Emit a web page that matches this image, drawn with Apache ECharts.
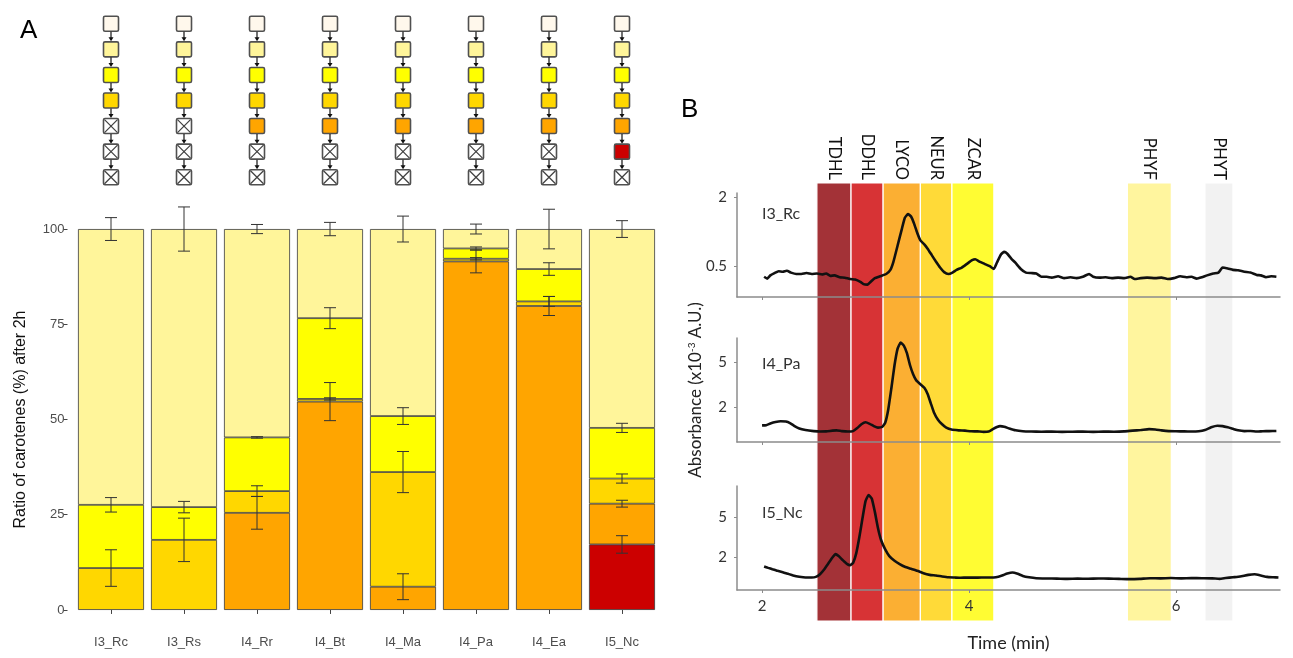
<!DOCTYPE html>
<html><head><meta charset="utf-8">
<script src="https://cdn.jsdelivr.net/npm/echarts@6/dist/echarts.min.js"></script>
<style>html,body{margin:0;padding:0;background:#fff}#c{width:1293px;height:658px}</style>
</head><body><div id="c"></div>
<script>
// ---------- Panel A data ----------
const categories = ['I3_Rc','I3_Rs','I4_Rr','I4_Bt','I4_Ma','I4_Pa','I4_Ea','I5_Nc'];
const redVals    = [null, null, null, null, null, null, null, 17.2];
const orangeVals = [null, null, 25.5, 54.7, 6.1, 91.5, 79.8, 10.7];
const goldVals   = [11.0, 18.4, 5.7, 0.7, 30.1, 0.7, 1.2, 6.6];
const yellowVals = [16.6, 8.6, 14.1, 21.2, 14.7, 2.7, 8.5, 13.3];
const lightVals  = [72.4, 73.0, 54.7, 23.4, 49.1, 5.1, 10.5, 52.2];
const redErr     = [null, null, null, null, null, null, null, 2.3];
const orangeErr  = [null, null, 4.3, 5.0, 3.4, 3.0, 2.5, 0.9];
const goldErr    = [4.8, 5.7, 1.4, 0.3, 5.4, 0.3, 1.3, 1.2];
const yellowErr  = [1.9, 1.5, 0.2, 2.75, 2.2, 0.4, 1.65, 1.2];
const lightErr   = [3.0, 5.8, 1.2, 1.75, 3.4, 1.3, 5.2, 2.2];
const yTicksA = [0, 25, 50, 75, 100];
// pathway: number of active enzyme steps per strain (rest crossed)
const activeSteps = [4, 4, 5, 5, 5, 5, 5, 6];
const stepColors = ['#FFF8EC', '#FFF59A', '#FFFF00', '#FFD700', '#FFA500', '#CC0000'];

// ---------- Panel B data ----------
const bandNames  = ['TDHL','DDHL','LYCO','NEUR','ZCAR','PHYF','PHYT'];
const bandStart  = [2.53, 2.86, 3.17, 3.53, 3.835, 5.53, 6.28];
const bandEnd    = [2.86, 3.17, 3.53, 3.835, 4.24, 5.955, 6.55];
const bandColors = ['#A33237', '#D73335', '#FBAF33', '#FFDA38', '#FFFC33', '#FFF59E', '#F2F2F2'];
const timeTicks = [2, 4, 6];
const traceI3Rc = [[2.02,0.27],[2.05,0.23],[2.08,0.3],[2.12,0.35],[2.16,0.39],[2.2,0.38],[2.24,0.4],[2.28,0.36],[2.33,0.33],[2.38,0.33],[2.43,0.35],[2.48,0.33],[2.53,0.34],[2.58,0.32],[2.62,0.34],[2.66,0.29],[2.7,0.3],[2.75,0.26],[2.8,0.25],[2.85,0.22],[2.9,0.21],[2.95,0.16],[2.98,0.11],[3.02,0.1],[3.05,0.16],[3.09,0.24],[3.14,0.28],[3.2,0.33],[3.24,0.42],[3.27,0.6],[3.31,0.95],[3.35,1.3],[3.38,1.55],[3.41,1.63],[3.44,1.58],[3.47,1.42],[3.5,1.22],[3.53,1.06],[3.57,0.97],[3.6,0.88],[3.64,0.74],[3.68,0.6],[3.72,0.47],[3.76,0.37],[3.8,0.33],[3.84,0.36],[3.88,0.42],[3.93,0.47],[3.98,0.55],[4.03,0.63],[4.06,0.65],[4.1,0.6],[4.15,0.55],[4.2,0.5],[4.24,0.44],[4.27,0.58],[4.31,0.76],[4.34,0.81],[4.37,0.77],[4.41,0.66],[4.45,0.57],[4.5,0.44],[4.55,0.36],[4.6,0.35],[4.65,0.34],[4.7,0.27],[4.75,0.27],[4.8,0.25],[4.86,0.28],[4.92,0.24],[4.98,0.26],[5.04,0.24],[5.1,0.27],[5.16,0.33],[5.2,0.27],[5.26,0.25],[5.32,0.26],[5.38,0.24],[5.44,0.25],[5.5,0.24],[5.56,0.27],[5.6,0.22],[5.66,0.24],[5.72,0.25],[5.8,0.24],[5.86,0.25],[5.92,0.22],[5.98,0.24],[6.04,0.28],[6.1,0.26],[6.15,0.27],[6.2,0.23],[6.25,0.26],[6.3,0.3],[6.36,0.34],[6.41,0.36],[6.45,0.47],[6.5,0.45],[6.55,0.42],[6.6,0.41],[6.66,0.38],[6.72,0.36],[6.78,0.31],[6.82,0.3],[6.87,0.26],[6.92,0.28],[6.97,0.27]];
const traceI4Pa = [[2.0,0.83],[2.04,0.84],[2.08,0.95],[2.13,1.05],[2.18,1.1],[2.23,1.08],[2.27,0.98],[2.31,0.8],[2.36,0.62],[2.42,0.52],[2.5,0.45],[2.56,0.42],[2.62,0.43],[2.68,0.48],[2.72,0.5],[2.77,0.45],[2.83,0.42],[2.88,0.45],[2.92,0.65],[2.96,0.9],[3.0,1.03],[3.04,0.93],[3.08,0.78],[3.12,0.68],[3.16,0.72],[3.19,1.0],[3.22,1.9],[3.25,3.3],[3.28,4.8],[3.31,5.9],[3.34,6.3],[3.37,6.1],[3.4,5.6],[3.43,4.8],[3.46,4.2],[3.49,3.8],[3.53,3.55],[3.57,3.3],[3.6,2.9],[3.63,2.3],[3.66,1.7],[3.7,1.2],[3.74,0.9],[3.78,0.68],[3.83,0.55],[3.9,0.5],[3.96,0.48],[4.02,0.44],[4.08,0.43],[4.14,0.4],[4.19,0.42],[4.23,0.58],[4.27,0.72],[4.3,0.78],[4.34,0.74],[4.39,0.62],[4.45,0.5],[4.52,0.44],[4.6,0.42],[4.7,0.41],[4.8,0.42],[4.9,0.4],[5.0,0.41],[5.1,0.42],[5.2,0.4],[5.3,0.42],[5.4,0.41],[5.5,0.43],[5.58,0.48],[5.66,0.52],[5.74,0.58],[5.8,0.56],[5.86,0.5],[5.93,0.45],[6.0,0.44],[6.08,0.43],[6.15,0.42],[6.22,0.44],[6.28,0.52],[6.34,0.7],[6.4,0.8],[6.45,0.78],[6.5,0.7],[6.55,0.6],[6.6,0.5],[6.66,0.45],[6.72,0.46],[6.78,0.42],[6.84,0.44],[6.9,0.45],[6.97,0.46]];
const traceI5Nc = [[2.02,1.33],[2.06,1.22],[2.1,1.12],[2.15,1.0],[2.2,0.9],[2.25,0.78],[2.3,0.66],[2.36,0.56],[2.42,0.5],[2.48,0.5],[2.52,0.55],[2.56,0.75],[2.6,1.1],[2.64,1.55],[2.68,2.0],[2.71,2.25],[2.74,2.1],[2.78,1.8],[2.82,1.52],[2.85,1.42],[2.88,1.6],[2.91,2.3],[2.94,3.5],[2.97,4.9],[3.0,6.2],[3.03,6.65],[3.06,6.4],[3.09,5.4],[3.12,4.2],[3.15,3.3],[3.19,2.6],[3.23,2.1],[3.28,1.75],[3.33,1.5],[3.38,1.3],[3.44,1.15],[3.5,1.0],[3.56,0.82],[3.62,0.7],[3.68,0.65],[3.74,0.58],[3.8,0.52],[3.86,0.5],[3.92,0.48],[3.98,0.5],[4.05,0.49],[4.12,0.5],[4.2,0.5],[4.26,0.52],[4.32,0.65],[4.37,0.8],[4.42,0.88],[4.47,0.78],[4.52,0.62],[4.58,0.52],[4.65,0.45],[4.75,0.43],[4.85,0.42],[4.95,0.4],[5.05,0.42],[5.15,0.41],[5.25,0.43],[5.35,0.42],[5.45,0.4],[5.55,0.38],[5.65,0.4],[5.75,0.45],[5.85,0.44],[5.95,0.46],[6.05,0.44],[6.15,0.46],[6.25,0.45],[6.35,0.44],[6.42,0.4],[6.48,0.46],[6.55,0.52],[6.62,0.58],[6.7,0.7],[6.76,0.74],[6.82,0.65],[6.88,0.55],[6.94,0.52],[6.99,0.5]];
const traceNames = ['I3_Rc', 'I4_Pa', 'I5_Nc'];
const yRangeB = [[-0.17, 2.09], [-0.27, 6.6], [-0.43, 7.33]];
const yTicksB = [[0.5, 2], [2, 5], [2, 5]];

// ---------- build ----------
const chart = echarts.init(document.getElementById('c'), null, {renderer: 'canvas'});
const segVals = [redVals, orangeVals, goldVals, yellowVals, lightVals];
const segErrs = [redErr, orangeErr, goldErr, yellowErr, lightErr];
const segColors = ['#CC0000', '#FFA500', '#FFD700', '#FFFF00', '#FFF59A'];
const segNames = ['red', 'orange', 'gold', 'yellow', 'light'];
const errData = [];
categories.forEach((c, i) => {
  let cum = 0;
  segVals.forEach((arr, k) => {
    if (arr[i] != null) { cum += arr[i]; if (segErrs[k][i] != null) errData.push([i, cum, segErrs[k][i]]); }
  });
});
const pathData = [];
categories.forEach((c, i) => {
  for (let s = 1; s <= 7; s++) pathData.push([i, s, s <= activeSteps[i] ? s - 1 : -1]);
});
const bandData = bandStart.map((s, i) => [s, bandEnd[i], 0]);

const fA = 'Liberation Sans, Arial, sans-serif';
const fB = 'Lato, Open Sans, sans-serif';
const gray = '#8c8c8c';
const BL = 737, BW = 543, XMIN = 1.758, XMAX = 7.005;
const gridsB = [{top: 193, height: 104}, {top: 338, height: 104}, {top: 486, height: 104}];

const option = {
  backgroundColor: '#fff',
  animation: false,
  title: [
    {text: 'A', left: 15, top: 13, textStyle: {fontSize: 26, fontWeight: 'normal', fontFamily: fA, color: '#000'}},
    {text: 'B', left: 676, top: 92, textStyle: {fontSize: 26, fontWeight: 'normal', fontFamily: fA, color: '#000'}},
    {text: traceNames[0], left: 757, top: 201, textStyle: {fontSize: 16, fontWeight: 'normal', fontFamily: fB, color: '#333'}},
    {text: traceNames[1], left: 757, top: 351, textStyle: {fontSize: 16, fontWeight: 'normal', fontFamily: fB, color: '#333'}},
    {text: traceNames[2], left: 757, top: 500, textStyle: {fontSize: 16, fontWeight: 'normal', fontFamily: fB, color: '#333'}}
  ],
  grid: [
    {left: 74.5, width: 584, top: 210, height: 419},
    {left: 74.5, width: 584, top: 11, height: 179},
    {left: BL, width: BW, top: 183, height: 438},
    {left: BL, width: BW, top: gridsB[0].top, height: gridsB[0].height},
    {left: BL, width: BW, top: gridsB[1].top, height: gridsB[1].height},
    {left: BL, width: BW, top: gridsB[2].top, height: gridsB[2].height}
  ],
  xAxis: [
    {type: 'category', gridIndex: 0, data: categories,
      axisLine: {show: false}, axisTick: {show: true, alignWithLabel: true, length: 4, lineStyle: {color: '#444'}},
      axisLabel: {color: '#4d4d4d', fontSize: 13, fontFamily: fA, margin: 7}},
    {type: 'category', gridIndex: 1, data: categories, show: false},
    {type: 'value', gridIndex: 2, min: XMIN, max: XMAX, show: false},
  ].concat([0, 1, 2].map(k => ({
    type: 'value', gridIndex: 3 + k, min: XMIN, max: XMAX, z: 6,
    axisLine: {show: true, onZero: false, lineStyle: {color: gray, width: 1.5}},
    axisTick: {show: true, customValues: timeTicks, length: 3, lineStyle: {color: gray}},
    axisLabel: {show: k === 2, customValues: timeTicks, color: '#333', fontSize: 15, fontFamily: fB, margin: 9},
    splitLine: {show: false},
    name: k === 2 ? 'Time (min)' : '', nameLocation: 'middle', nameGap: 44,
    nameTextStyle: {fontSize: 18, fontFamily: fB, color: '#222'}
  }))),
  yAxis: [
    {type: 'value', gridIndex: 0, min: -5, max: 105, offset: 7,
      axisLine: {show: false}, splitLine: {show: false},
      axisTick: {show: true, customValues: yTicksA, length: 4, lineStyle: {color: '#444'}},
      axisLabel: {customValues: yTicksA, color: '#4d4d4d', fontSize: 13, fontFamily: fA, margin: 3},
      name: 'Ratio of carotenes (%) after 2h', nameLocation: 'middle', nameRotate: 90, nameGap: 39,
      nameTextStyle: {fontSize: 16, fontFamily: fA, color: '#111'}},
    {type: 'value', gridIndex: 1, min: 0.5, max: 7.5, inverse: true, show: false},
    {type: 'value', gridIndex: 2, min: 0, max: 1, show: false}
  ].concat([0, 1, 2].map(k => ({
    type: 'value', gridIndex: 3 + k, min: yRangeB[k][0], max: yRangeB[k][1], z: 6,
    axisLine: {show: true, lineStyle: {color: gray, width: 1.5}},
    axisTick: {show: true, customValues: yTicksB[k], length: 3, lineStyle: {color: gray}},
    axisLabel: {customValues: yTicksB[k], color: '#333', fontSize: 15, fontFamily: fB, margin: 10},
    splitLine: {show: false},
    name: k === 1 ? 'Absorbance (x10{s|-3} A.U.)' : '', nameLocation: 'middle', nameRotate: 90, nameGap: 32,
    nameTextStyle: {fontSize: 17, fontFamily: fB, color: '#222', rich: {s: {fontSize: 10, fontFamily: fB, color: '#222', verticalAlign: 'top', padding: [0, 0, 8, 0]}}}
  }))),
  series: []
};

segVals.forEach((arr, k) => {
  option.series.push({
    type: 'bar', name: segNames[k], xAxisIndex: 0, yAxisIndex: 0, stack: 'a',
    data: arr, barCategoryGap: '9.6%',
    itemStyle: {color: segColors[k], borderColor: '#3a3a3a', borderWidth: 0.8}
  });
});
option.series.push({
  type: 'custom', xAxisIndex: 0, yAxisIndex: 0, data: errData, z: 10,
  encode: {x: 0, y: 1},
  renderItem: function (params, api) {
    const x = api.value(0), top = api.value(1), e = api.value(2);
    const p1 = api.coord([x, top + e]), p2 = api.coord([x, top - e]);
    const hw = 6, st = {stroke: '#333', lineWidth: 1};
    return {type: 'group', children: [
      {type: 'line', shape: {x1: p1[0], y1: p1[1], x2: p2[0], y2: p2[1]}, style: st},
      {type: 'line', shape: {x1: p1[0] - hw, y1: p1[1], x2: p1[0] + hw, y2: p1[1]}, style: st},
      {type: 'line', shape: {x1: p2[0] - hw, y1: p2[1], x2: p2[0] + hw, y2: p2[1]}, style: st}
    ]};
  }
});
option.series.push({
  type: 'custom', xAxisIndex: 1, yAxisIndex: 1, data: pathData,
  encode: {x: 0, y: 1},
  renderItem: function (params, api) {
    const c = api.coord([api.value(0), api.value(1)]);
    const s = api.value(1), st = api.value(2);
    const step = api.size([0, 1])[1];
    const h = 7.5;
    const ch = [{type: 'rect', shape: {x: c[0] - h, y: c[1] - h, width: 2 * h, height: 2 * h, r: 1.5},
      style: {fill: st < 0 ? '#fff' : stepColors[st], stroke: '#505050', lineWidth: 1.6}}];
    if (st < 0) {
      const lx = {stroke: '#404040', lineWidth: 1.2};
      ch.push({type: 'line', shape: {x1: c[0] - h + 1, y1: c[1] - h + 1, x2: c[0] + h - 1, y2: c[1] + h - 1}, style: lx});
      ch.push({type: 'line', shape: {x1: c[0] + h - 1, y1: c[1] - h + 1, x2: c[0] - h + 1, y2: c[1] + h - 1}, style: lx});
    }
    if (s < 7) {
      const y0 = c[1] + h + 0.5, y1 = c[1] + step - h - 0.5;
      ch.push({type: 'line', shape: {x1: c[0], y1: y0, x2: c[0], y2: y1 - 3}, style: {stroke: '#111', lineWidth: 1.2}});
      ch.push({type: 'polygon', shape: {points: [[c[0] - 2.5, y1 - 4], [c[0] + 2.5, y1 - 4], [c[0], y1]]}, style: {fill: '#111'}});
    }
    return {type: 'group', children: ch};
  }
});
option.series.push({
  type: 'custom', xAxisIndex: 2, yAxisIndex: 2, data: bandData, z: 1,
  encode: {x: [0, 1], y: 2},
  renderItem: function (params, api) {
    const a = api.coord([api.value(0), 1]), b = api.coord([api.value(1), 0]);
    const i = params.dataIndex;
    return {type: 'group', children: [
      {type: 'rect', shape: {x: a[0], y: a[1], width: b[0] - a[0], height: b[1] - a[1]},
        style: {fill: bandColors[i], stroke: '#fff', lineWidth: 1.2}},
      {type: 'text', x: (a[0] + b[0]) / 2, y: a[1] - 3, rotation: -Math.PI / 2,
        style: {text: bandNames[i], align: 'right', verticalAlign: 'middle', fontSize: 16.5, fontFamily: fB, fill: '#111'}}
    ]};
  }
});
[traceI3Rc, traceI4Pa, traceI5Nc].forEach((tr, k) => {
  option.series.push({
    type: 'line', name: traceNames[k], xAxisIndex: 3 + k, yAxisIndex: 3 + k, data: tr, z: 5,
    showSymbol: false, symbol: 'none', smooth: 0.15,
    lineStyle: {color: '#111', width: 2.6}
  });
});
chart.setOption(option);
</script></body></html>
